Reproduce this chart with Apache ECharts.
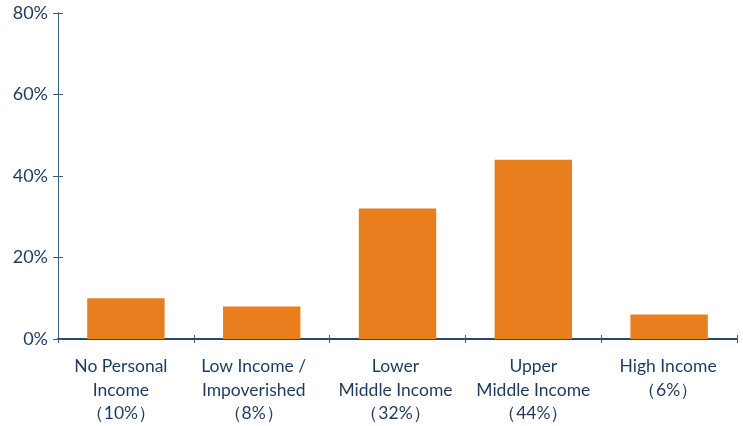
<!DOCTYPE html>
<html>
<head>
<meta charset="utf-8">
<script src="https://cdn.jsdelivr.net/npm/echarts@6/dist/echarts.min.js"></script>
<style>
  html, body { margin: 0; padding: 0; background: #ffffff; }
  #chart { width: 743px; height: 426px; }
</style>
</head>
<body>
<div id="chart"></div>
<script>
// Income groups and their share of respondents (%)
const categories = ['No Personal\nIncome', 'Low Income /\nImpoverished', 'Lower\nMiddle Income', 'Upper\nMiddle Income', 'High Income'];
const shares = [10, 8, 32, 44, 6];
const yTicks = [0, 20, 40, 60, 80];

// Horizontal nudge (px, negative = left) applied to each category label block
const labelNudge = [-5, -8, -2, 0, -1];

const textColor = '#1f3a5f';
const fontFamily = 'Lato, "Noto Sans", sans-serif';

const labelItems = categories.map((c, i) => ({
  value: c + '\n（' + shares[i] + '%）',
  textStyle: {
    padding: [0, Math.max(0, -2 * labelNudge[i]), 0, Math.max(0, 2 * labelNudge[i])]
  }
}));

const chart = echarts.init(document.getElementById('chart'));

const yBase = {
  type: 'value',
  min: yTicks[0],
  max: yTicks[yTicks.length - 1],
  interval: yTicks[1] - yTicks[0],
  position: 'left',
  splitLine: { show: false },
  axisLine: { show: true, lineStyle: { color: '#3f5c7c', width: 1 } }
};

const xBase = {
  type: 'category',
  data: labelItems,
  position: 'bottom',
  boundaryGap: true,
  splitLine: { show: false },
  axisLine: { show: true, lineStyle: { color: '#1c3d63', width: 1.5 } }
};

chart.setOption({
  animation: false,
  grid: { left: 58, right: 6, top: 13, bottom: 87, containLabel: false },
  xAxis: [
    Object.assign({}, xBase, {
      axisTick: { show: true, inside: false, length: 4, lineStyle: { color: '#3f5c7c' } },
      axisLabel: {
        color: textColor, fontSize: 17.5, fontFamily: fontFamily,
        lineHeight: 23.5, margin: 16, interval: 0
      }
    }),
    Object.assign({}, xBase, {
      axisTick: { show: true, inside: true, length: 4, lineStyle: { color: '#3f5c7c' } },
      axisLabel: { show: false }
    })
  ],
  yAxis: [
    Object.assign({}, yBase, {
      axisTick: { show: true, inside: false, length: 5, lineStyle: { color: '#3f5c7c' } },
      axisLabel: {
        color: textColor, fontSize: 18, fontFamily: fontFamily, margin: 10,
        formatter: v => v + '%'
      }
    }),
    Object.assign({}, yBase, {
      axisTick: { show: true, inside: true, length: 5, lineStyle: { color: '#3f5c7c' } },
      axisLabel: { show: false }
    })
  ],
  series: [{
    type: 'bar',
    xAxisIndex: 0,
    yAxisIndex: 0,
    data: shares,
    barWidth: '57%',
    itemStyle: { color: '#e87e1e' }
  }]
});
</script>
</body>
</html>
